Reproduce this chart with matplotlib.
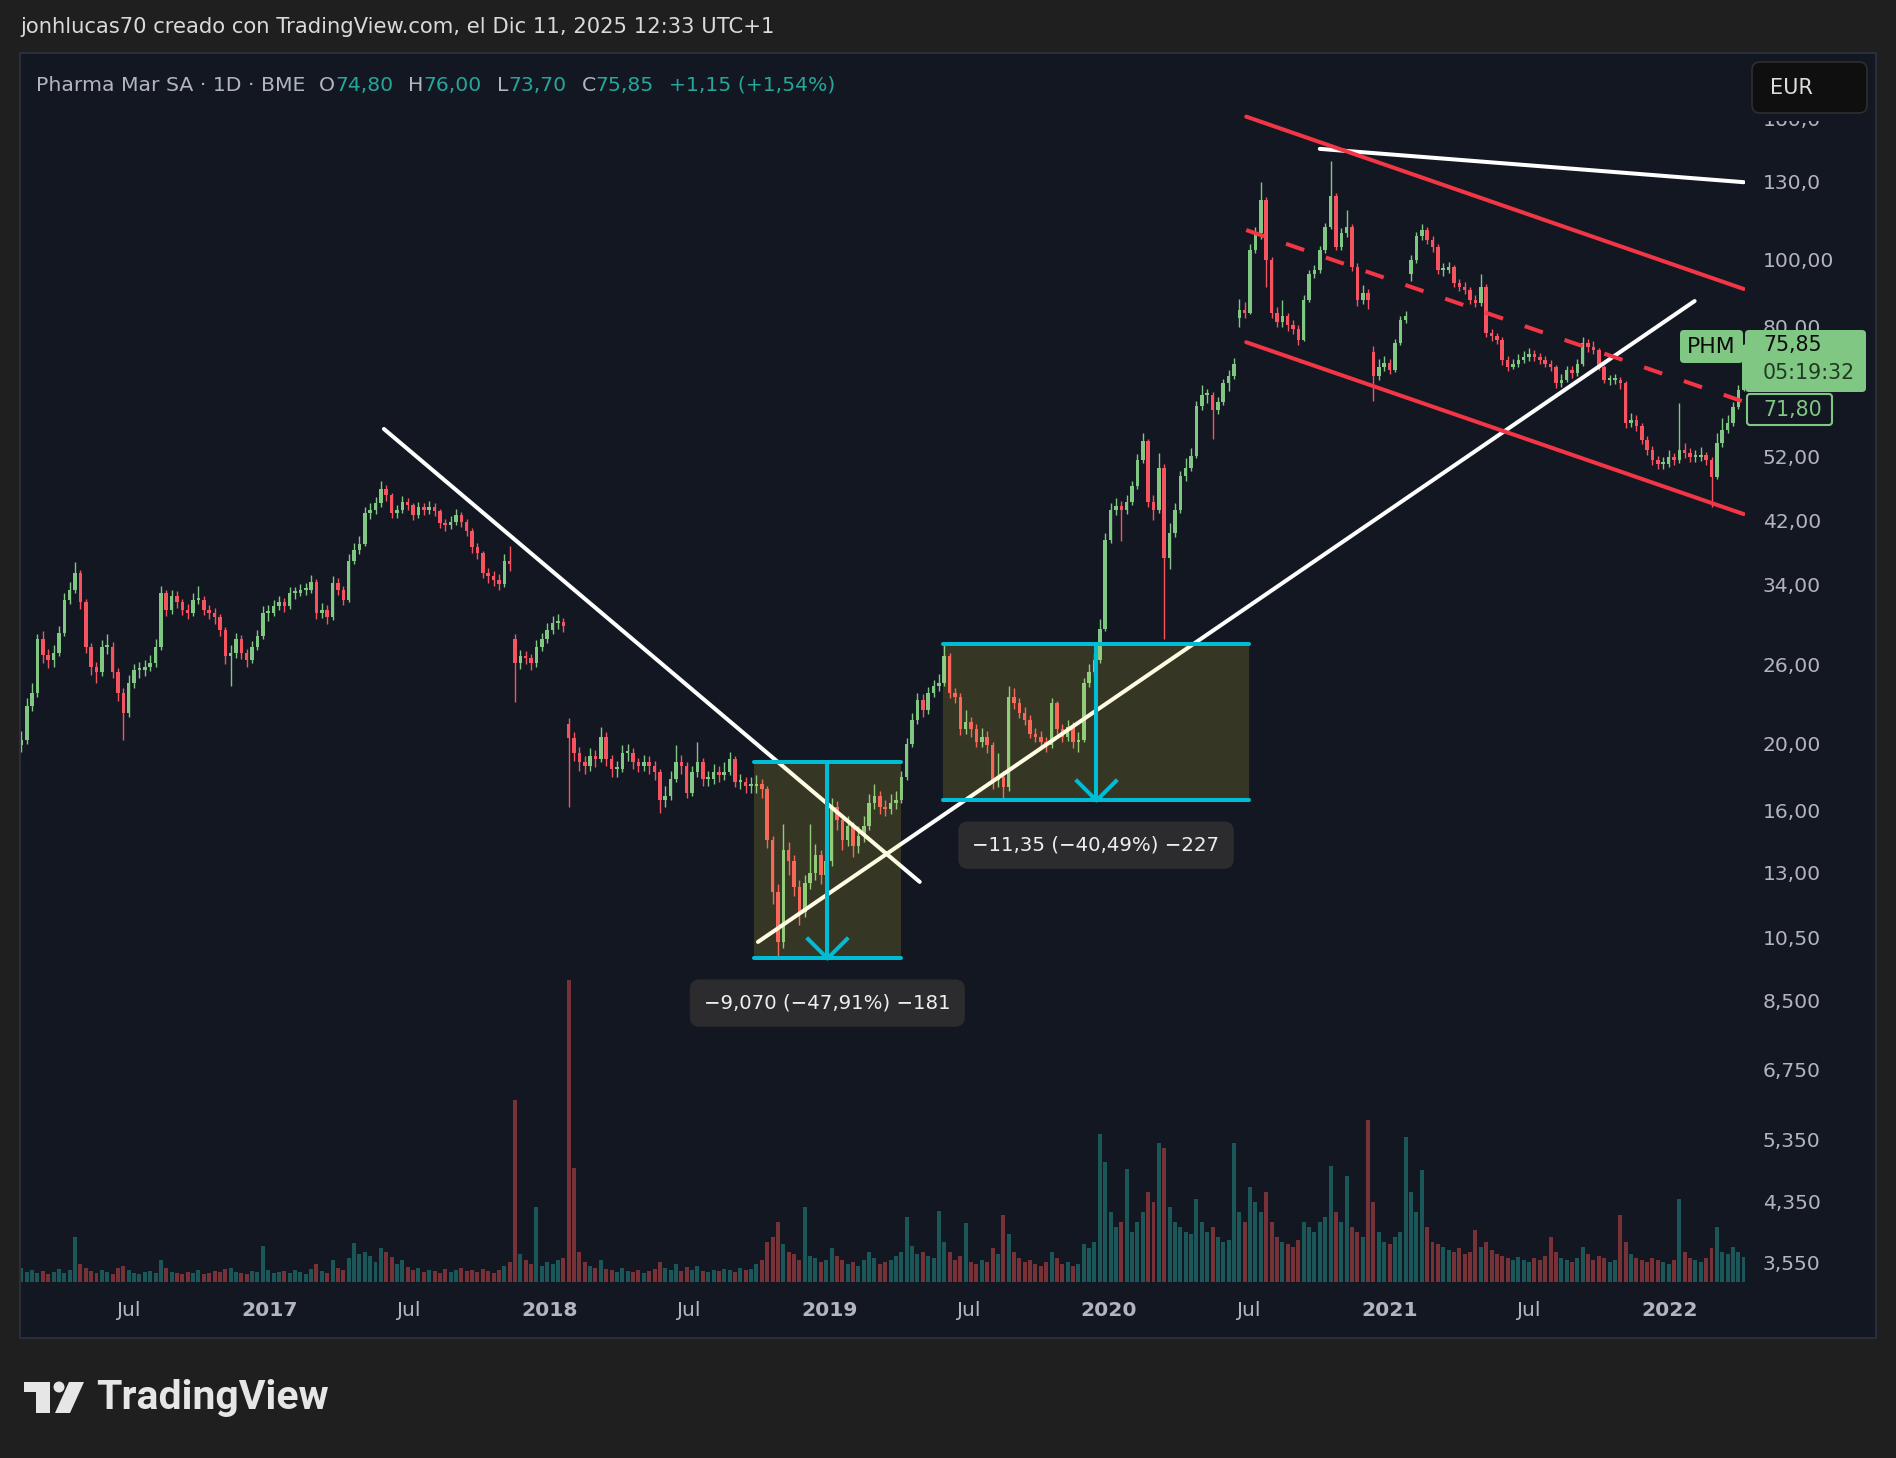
import numpy as np
import pandas as pd
import matplotlib
matplotlib.use("Agg")
import matplotlib.pyplot as plt
import matplotlib.dates as mdates
from matplotlib.patches import Rectangle, FancyBboxPatch, Polygon, Circle
from matplotlib.path import Path
from matplotlib.transforms import blended_transform_factory

plt.rcParams['font.family'] = ['DejaVu Sans']

# ---------------------------------------------------------------- data
week_start = "2016-02-12"          # weekly candles
first_open = 20.0
closes = [
    20.4, 22.8, 23.8, 28.5, 27.0, 26.6, 27.2, 29.1, 32.5, 33.6,
    35.5, 32.2, 27.8, 26.0, 25.5, 27.8, 27.8, 25.5, 23.8, 22.3,
    24.6, 25.7, 25.7, 26.0, 26.3, 27.8, 33.2, 31.4, 32.9, 32.2,
    31.4, 31.1, 32.5, 32.5, 31.4, 31.1, 30.7, 29.4, 26.9, 27.2,
    28.5, 27.2, 26.6, 27.8, 28.8, 31.1, 31.1, 31.8, 32.2, 31.8,
    33.2, 33.2, 33.6, 33.6, 34.5, 31.1, 31.4, 30.7, 34.3, 33.6,
    32.5, 37.0, 38.3, 39.1, 43.3, 43.8, 44.8, 47.0, 46.0, 43.3,
    43.8, 45.0, 44.5, 43.1, 44.3, 43.8, 44.3, 43.6, 41.9, 41.6,
    42.1, 43.1, 42.1, 40.9, 38.7, 37.9, 35.5, 35.1, 34.7, 34.2,
    37.0, 36.6, 26.3, 26.9, 26.8, 26.3, 27.8, 28.5, 29.4, 30.1,
    30.2, 29.8, 20.5, 19.5, 18.9, 18.7, 19.3, 19.1, 20.6, 19.1,
    18.5, 18.5, 19.5, 19.5, 18.9, 18.7, 18.9, 18.7, 18.3, 16.7,
    16.9, 17.9, 18.9, 18.7, 17.1, 18.3, 18.9, 17.9, 17.9, 18.3,
    18.1, 18.3, 19.1, 17.7, 17.7, 17.5, 17.5, 17.6, 17.3, 14.6,
    12.3, 10.4, 14.1, 13.6, 12.5, 11.5, 12.65, 13.1, 13.9, 13.0,
    13.6, 16.3, 15.6, 14.6, 15.3, 14.3, 14.8, 15.3, 16.5, 16.9,
    16.3, 16.2, 16.5, 16.7, 18.0, 20.1, 21.8, 23.3, 22.5, 23.8,
    24.4, 24.6, 26.9, 23.8, 23.5, 21.1, 21.6, 21.1, 20.2, 20.6,
    20.0, 17.8, 18.0, 17.4, 23.5, 23.0, 22.3, 21.8, 20.8, 20.6,
    20.2, 20.0, 23.0, 21.1, 20.6, 21.3, 20.2, 20.4, 24.6, 25.5,
    26.6, 29.5, 39.6, 43.8, 44.4, 43.8, 45.0, 47.4, 51.8, 55.1,
    45.0, 43.8, 50.4, 37.3, 40.6, 43.8, 49.0, 50.4, 52.4, 61.9,
    64.2, 64.2, 61.1, 62.7, 66.8, 68.5, 71.2, 85.2, 84.3, 104.0,
    110.0, 122.9, 100.6, 84.3, 81.8, 83.4, 81.0, 80.1, 77.2, 88.1,
    96.1, 97.3, 104.0, 112.4, 124.5, 105.2, 110.0, 112.4, 98.4, 88.1,
    90.1, 88.1, 68.3, 70.6, 71.5, 69.8, 76.3, 82.5, 83.4, 100.6,
    109.0, 111.2, 107.6, 105.2, 97.3, 97.3, 98.4, 93.1, 92.1, 91.1,
    88.1, 87.2, 92.1, 78.9, 78.1, 77.2, 72.1, 70.6, 71.3, 72.1,
    72.9, 73.7, 72.9, 72.1, 71.3, 70.6, 66.8, 67.5, 69.8, 69.0,
    71.3, 76.3, 75.4, 74.6, 70.6, 67.5, 67.5, 67.5, 66.8, 58.5,
    59.1, 57.9, 55.3, 53.5, 51.7, 51.1, 51.1, 52.3, 51.7, 53.5,
    52.9, 52.3, 52.3, 52.6, 51.7, 48.9, 54.7, 57.2, 58.5, 61.8,
    65.3, 75.85,
]
highs = [
    21.0, 23.4, 24.6, 29.0, 29.3, 27.6, 27.9, 29.8, 33.2, 34.5,
    36.8, 35.9, 32.6, 28.1, 26.4, 28.4, 29.0, 28.2, 25.9, 24.2,
    25.3, 26.2, 26.4, 26.6, 27.0, 28.5, 34.0, 33.6, 33.6, 33.4,
    32.6, 32.0, 33.2, 34.0, 32.9, 31.9, 31.6, 31.0, 29.7, 27.9,
    29.1, 28.9, 27.6, 28.3, 29.4, 31.8, 31.9, 32.5, 32.9, 32.7,
    33.9, 33.9, 34.2, 34.3, 35.3, 34.8, 32.1, 31.9, 35.2, 34.9,
    34.0, 37.8, 39.2, 40.2, 44.2, 44.9, 45.8, 48.3, 47.6, 46.4,
    44.6, 45.9, 45.6, 44.9, 45.0, 44.9, 45.1, 44.8, 44.0, 42.5,
    42.9, 43.9, 43.5, 42.5, 41.2, 39.2, 38.2, 36.1, 35.8, 35.4,
    37.8, 38.9, 29.0, 27.5, 27.4, 27.1, 28.4, 29.1, 30.1, 30.8,
    31.0, 30.6, 21.9, 20.9, 19.9, 19.3, 19.8, 19.7, 21.3, 20.9,
    19.4, 19.0, 20.0, 20.1, 19.8, 19.2, 19.4, 19.3, 19.0, 18.5,
    17.5, 18.4, 20.0, 19.4, 18.9, 18.7, 20.2, 19.2, 18.4, 18.8,
    18.7, 18.9, 19.6, 19.3, 18.2, 18.0, 18.0, 18.1, 17.9, 17.5,
    14.8, 12.6, 15.4, 14.5, 13.9, 12.8, 13.0, 15.4, 14.4, 14.1,
    14.2, 16.8, 16.6, 15.9, 15.8, 15.5, 15.3, 15.8, 17.0, 17.6,
    17.2, 16.7, 17.0, 17.2, 18.4, 20.5, 22.3, 23.8, 23.7, 24.3,
    24.9, 25.4, 28.0, 27.2, 24.2, 23.8, 22.5, 22.0, 21.5, 21.2,
    21.0, 20.2, 19.5, 18.4, 24.4, 24.2, 23.4, 22.7, 22.1, 21.2,
    21.0, 20.6, 23.4, 23.2, 21.5, 21.8, 21.6, 20.9, 25.0, 26.2,
    27.2, 30.5, 40.5, 44.8, 45.6, 45.2, 46.0, 48.3, 52.8, 56.5,
    55.5, 46.0, 53.0, 51.0, 42.0, 44.8, 49.8, 52.0, 53.8, 63.0,
    66.5, 65.5, 64.8, 63.8, 67.8, 69.8, 72.6, 88.5, 87.5, 106.0,
    112.5, 130.5, 124.0, 101.5, 86.0, 88.0, 84.5, 82.5, 81.0, 89.5,
    97.5, 99.0, 105.5, 114.0, 140.0, 126.0, 112.0, 119.0, 113.5, 99.5,
    92.5, 91.5, 75.5, 72.5, 73.0, 72.3, 77.3, 83.5, 85.0, 102.5,
    110.5, 113.5, 112.5, 109.0, 106.0, 99.5, 100.0, 99.0, 94.5, 93.5,
    92.0, 89.5, 96.0, 93.0, 80.0, 79.0, 77.8, 73.2, 72.5, 73.5,
    74.3, 75.0, 74.6, 73.8, 73.0, 72.2, 71.0, 68.8, 70.8, 70.8,
    72.4, 78.0, 77.5, 76.8, 75.2, 71.0, 68.6, 68.8, 68.2, 67.2,
    60.5, 60.0, 58.5, 56.0, 54.2, 52.5, 52.2, 53.4, 53.0, 62.5,
    54.8, 53.8, 53.5, 54.0, 53.2, 52.2, 56.5, 59.5, 60.0, 62.8,
    66.5, 76.0,
]
lows = [
    19.6, 20.1, 22.4, 23.5, 26.3, 25.9, 26.0, 26.9, 28.8, 32.0,
    33.2, 31.5, 27.2, 25.3, 24.6, 25.2, 27.1, 25.0, 23.2, 20.4,
    22.0, 24.2, 25.0, 25.2, 25.6, 26.0, 27.5, 30.8, 31.0, 31.6,
    30.9, 30.5, 30.8, 32.0, 30.9, 30.5, 30.0, 28.8, 26.2, 24.4,
    26.8, 26.7, 26.0, 26.3, 27.5, 28.5, 30.3, 30.8, 31.4, 31.2,
    31.5, 32.6, 32.9, 33.0, 33.2, 30.5, 30.6, 30.0, 30.4, 33.0,
    31.9, 32.2, 36.6, 37.8, 38.8, 42.5, 43.2, 44.3, 45.2, 42.6,
    42.7, 43.3, 43.8, 42.4, 42.7, 43.1, 43.2, 42.9, 41.2, 40.9,
    41.1, 41.7, 41.4, 40.2, 38.0, 37.2, 34.9, 34.3, 34.0, 33.6,
    33.9, 35.8, 23.1, 25.8, 26.2, 25.7, 26.0, 27.4, 28.1, 29.0,
    29.5, 29.2, 16.3, 19.0, 18.4, 18.2, 18.4, 18.6, 18.9, 18.7,
    18.0, 18.0, 18.3, 19.0, 18.5, 18.3, 18.4, 18.2, 17.8, 16.0,
    16.3, 16.7, 17.7, 18.2, 16.8, 16.9, 18.0, 17.5, 17.5, 17.6,
    17.7, 17.8, 18.1, 17.4, 17.3, 17.1, 17.1, 17.1, 16.8, 14.2,
    11.8, 9.86, 10.2, 13.0, 12.1, 11.0, 11.3, 12.4, 12.8, 12.6,
    12.7, 13.4, 15.1, 14.1, 14.3, 13.8, 14.0, 14.5, 15.1, 16.2,
    15.9, 15.8, 15.9, 16.2, 16.5, 17.8, 19.9, 21.5, 22.0, 22.2,
    23.5, 24.0, 24.4, 23.4, 23.0, 20.7, 20.8, 20.6, 19.9, 19.9,
    19.5, 17.3, 17.4, 16.7, 17.2, 22.6, 21.9, 21.4, 20.5, 20.2,
    19.9, 19.6, 19.8, 20.8, 20.2, 20.3, 19.8, 19.6, 20.2, 24.3,
    25.2, 26.3, 29.3, 39.2, 43.0, 39.5, 43.2, 44.6, 47.0, 51.2,
    44.2, 42.4, 43.4, 28.5, 36.0, 40.0, 43.4, 48.2, 49.8, 52.0,
    61.0, 62.5, 55.5, 60.2, 62.2, 65.0, 67.8, 80.5, 83.0, 84.0,
    103.0, 108.0, 92.0, 83.0, 80.5, 80.5, 79.5, 78.8, 75.8, 76.8,
    87.5, 94.8, 96.5, 103.0, 111.5, 104.0, 104.0, 108.5, 97.0, 86.5,
    86.8, 85.5, 63.0, 67.5, 69.5, 68.8, 69.3, 75.8, 81.5, 94.0,
    99.5, 107.5, 106.0, 103.5, 96.0, 95.5, 96.5, 92.0, 90.8, 89.8,
    86.8, 86.0, 86.5, 77.8, 76.8, 76.0, 71.0, 69.5, 70.0, 70.5,
    71.4, 72.0, 71.8, 71.2, 70.4, 69.6, 65.8, 66.0, 67.0, 68.0,
    68.5, 70.8, 74.2, 73.5, 69.8, 66.8, 66.5, 66.6, 65.5, 57.5,
    57.8, 57.0, 54.5, 52.6, 50.8, 50.2, 50.2, 50.6, 50.8, 51.2,
    52.0, 51.4, 51.3, 51.6, 50.8, 44.2, 48.5, 54.0, 56.5, 58.0,
    61.2, 65.0,
]
# weeks that opened with a price gap (index -> open)
gap_opens = {92: 28.5, 102: 21.5, 227: 83.0, 252: 74.0, 259: 96.0}
# relative volume (same scale as the pane height)
volumes = [
    14, 10, 12, 9, 11, 8, 10, 13, 9, 12,
    45, 18, 14, 11, 9, 12, 10, 8, 14, 16,
    12, 9, 8, 10, 11, 9, 22, 14, 10, 9,
    8, 10, 9, 12, 8, 9, 11, 10, 13, 14,
    10, 9, 8, 11, 10, 36, 12, 9, 10, 11,
    9, 12, 10, 8, 13, 18, 11, 9, 22, 14,
    12, 24, 39, 28, 30, 26, 20, 34, 30, 25,
    18, 22, 15, 12, 14, 10, 12, 11, 9, 13,
    10, 12, 14, 11, 12, 10, 13, 11, 9, 12,
    16, 20, 182, 28, 22, 18, 75, 16, 20, 18,
    22, 24, 302, 114, 30, 20, 16, 14, 22, 13,
    12, 10, 14, 11, 10, 12, 9, 11, 13, 20,
    14, 12, 18, 11, 15, 12, 16, 11, 10, 12,
    11, 13, 12, 10, 14, 12, 13, 18, 22, 40,
    45, 60, 38, 30, 28, 22, 75, 26, 24, 20,
    22, 34, 26, 22, 18, 20, 16, 22, 30, 24,
    18, 20, 22, 26, 30, 65, 36, 28, 30, 26,
    24, 71, 40, 30, 22, 26, 59, 20, 18, 22,
    20, 34, 28, 67, 48, 30, 24, 20, 22, 18,
    16, 20, 30, 24, 18, 20, 16, 18, 38, 34,
    40, 148, 120, 70, 55, 60, 113, 50, 60, 70,
    90, 80, 139, 134, 75, 60, 55, 50, 48, 83,
    60, 50, 55, 45, 40, 42, 139, 70, 60, 95,
    80, 70, 90, 60, 45, 40, 38, 35, 42, 60,
    55, 50, 60, 65, 116, 70, 60, 106, 55, 50,
    45, 162, 80, 50, 40, 38, 45, 50, 145, 90,
    70, 112, 55, 40, 38, 35, 32, 30, 34, 28,
    30, 52, 35, 40, 32, 28, 26, 24, 22, 25,
    22, 20, 24, 22, 26, 45, 30, 24, 22, 20,
    24, 35, 28, 22, 26, 24, 20, 22, 67, 40,
    28, 24, 22, 20, 24, 22, 20, 18, 22, 83,
    30, 24, 22, 20, 24, 34, 55, 30, 28, 35,
    30, 25,
]

price_ticks = [160, 130, 100, 80, 52, 42, 34, 26, 20, 16, 13, 10.5, 8.5, 6.75, 5.35, 4.35, 3.55]
price_tick_labels = ["160,0", "130,0", "100,00", "80,00", "52,00", "42,00", "34,00", "26,00",
                     "20,00", "16,00", "13,00", "10,50", "8,500", "6,750", "5,350", "4,350", "3,550"]
time_ticks = ["2016-07-01", "2017-01-01", "2017-07-01", "2018-01-01", "2018-07-01", "2019-01-01",
              "2019-07-01", "2020-01-01", "2020-07-01", "2021-01-01", "2021-07-01", "2022-01-01"]
time_tick_labels = ["Jul", "2017", "Jul", "2018", "Jul", "2019", "Jul", "2020", "Jul", "2021", "Jul", "2022"]

# drawings (date, price)
white_lines = [
    [("2017-05-30", 57.35), ("2019-04-29", 12.70)],
    [("2018-09-30", 10.40), ("2022-02-03", 87.8)],
    [("2020-10-02", 145.7), ("2022-04-08", 130.4)],
]
red_lines = [
    [("2020-06-28", 162.2), ("2022-04-08", 91.4)],
    [("2020-06-28", 76.55), ("2022-04-08", 43.2)],
]
red_dashed = [("2020-06-28", 111.2), ("2022-04-08", 62.8)]
range_starts = ["2018-09-25", "2019-05-30"]
range_ends = ["2019-04-04", "2020-07-01"]
range_tops = [18.93, 28.03]
range_bottoms = [9.86, 16.68]
range_labels = ["\u22129,070 (\u221247,91%) \u2212181", "\u221211,35 (\u221240,49%) \u2212227"]

title = "jonhlucas70 creado con TradingView.com, el Dic 11, 2025 12:33 UTC+1"
legend_name = "Pharma Mar SA \u00b7 1D \u00b7 BME"
legend_ohlc = [("O", "74,80"), ("H", "76,00"), ("L", "73,70"), ("C", "75,85")]
legend_change = "+1,15 (+1,54%)"
last_price, countdown, prev_label = "75,85", "05:19:32", "71,80"

# ---------------------------------------------------------------- style
W, H, DPI = 1896, 1458, 100
BG_OUT = '#1f1f1f'
BG = '#131722'
UP = '#81c784'
DN = '#f7525f'
TXT = '#b2b5be'
TEAL = '#26a69a'
CYAN = '#00bcd4'
RED_LINE = '#f23645'
LW = 2.9

fig = plt.figure(figsize=(W / DPI, H / DPI), dpi=DPI, facecolor=BG_OUT)


def px_axes(z):
    a = fig.add_axes([0, 0, 1, 1], zorder=z)
    a.set_xlim(0, W)
    a.set_ylim(H, 0)
    a.set_axis_off()
    return a


back = px_axes(-2)
back.add_patch(Rectangle((20, 53), 1856, 1285, facecolor=BG, edgecolor='#2a2e39', lw=1.5))

L, R, T, B = 21, 1745, 54, 1282
rect = [L / W, 1 - B / H, (R - L) / W, (B - T) / H]
axv = fig.add_axes(rect, zorder=0)
ax = fig.add_axes(rect, zorder=1)
for a in (axv, ax):
    a.set_facecolor('none')
    a.set_axis_off()

dates = pd.date_range(week_start, periods=len(closes), freq='7D')
x = mdates.date2num(dates.values)
c = np.array(closes)
o = np.array([first_open] + closes[:-1])
for k, v in gap_opens.items():
    o[k] = v
up = c >= o
cols = [UP if u else DN for u in up]

# volume
vcols = [(38 / 255, 166 / 255, 154 / 255, 0.45) if u else (239 / 255, 83 / 255, 80 / 255, 0.45) for u in up]
axv.bar(x, volumes, width=5.2, color=vcols, lw=0)
axv.set_ylim(0, B - T)

# candles
ax.set_yscale('log')
ax.vlines(x, lows, highs, colors=cols, lw=1.0, zorder=2)
ax.bar(x, np.maximum(np.abs(c - o), c * 0.006), bottom=np.minimum(o, c), width=4.6,
       color=cols, lw=0, zorder=2)


def dn(s):
    return mdates.date2num(np.datetime64(s))


for seg in white_lines:
    ax.plot([dn(d) for d, _ in seg], [p for _, p in seg], color='white', lw=LW,
            solid_capstyle='round', zorder=4)
for seg in red_lines:
    ax.plot([dn(d) for d, _ in seg], [p for _, p in seg], color=RED_LINE, lw=LW,
            solid_capstyle='round', zorder=4)
ax.plot([dn(d) for d, _ in red_dashed], [p for _, p in red_dashed], color=RED_LINE, lw=LW,
        linestyle=(0, (4.75, 5.7)), dash_capstyle='butt', zorder=4)

chevron = Path([(-1, 1), (0, 0), (1, 1)], [Path.MOVETO, Path.LINETO, Path.LINETO])
for s, e, tp, bt, lab in zip(range_starts, range_ends, range_tops, range_bottoms, range_labels):
    x0, x1 = dn(s), dn(e)
    xm = (x0 + x1) / 2
    ax.add_patch(Rectangle((x0, bt), x1 - x0, tp - bt, facecolor=(1.0, 0.92, 0.23, 0.15),
                           edgecolor='none', zorder=5))
    for yy in (tp, bt):
        ax.plot([x0, x1], [yy, yy], color=CYAN, lw=LW, solid_capstyle='round', zorder=6)
    ax.plot([xm, xm], [tp, bt], color=CYAN, lw=LW, zorder=6)
    ax.plot([xm], [bt], marker=chevron, markersize=30, markerfacecolor='none',
            markeredgecolor=CYAN, markeredgewidth=LW, zorder=6)
    ax.annotate(lab, xy=(xm, bt), xytext=(0, -32.5), textcoords='offset points',
                ha='center', va='center', color='#eeeeee', fontsize=14.2, zorder=7,
                bbox=dict(boxstyle='round,pad=0.72,rounding_size=0.5', fc='#2c2c2e', ec='none'))

ax.set_xlim(dn("2016-02-11T12:00"), dn("2022-04-09T16:48"))
axv.set_xlim(ax.get_xlim())
ax.set_ylim(3.353, 199.8)

# price scale labels
trp = blended_transform_factory(ax.transAxes, ax.transData)
lx = (1763 - L) / (R - L)
for p, lab in zip(price_ticks, price_tick_labels):
    ax.text(lx, p, lab, transform=trp, color=TXT, fontsize=14.6, ha='left', va='center',
            clip_on=False)

# time scale labels
trt = blended_transform_factory(ax.transData, ax.transAxes)
ly = -(1311 - B) / (B - T)
for d, lab in zip(time_ticks, time_tick_labels):
    ax.text(dn(d), ly, lab, transform=trt, color=TXT, fontsize=14.6, ha='center', va='center',
            fontweight='normal' if lab == 'Jul' else 'bold', clip_on=False)

# ---------------------------------------------------------------- overlays (pixel space)
fg = px_axes(5)
# price-scale area just under the currency button hides the top of the first label
fg.add_patch(Rectangle((1752, 112), 116, 9, fc=BG, ec='none'))
fg.add_patch(FancyBboxPatch((1752, 62), 115, 51, boxstyle='round,pad=0,rounding_size=8',
                            fc='#0f0f0f', ec='#2e2e2e', lw=1.2))
fg.text(1770, 88, 'EUR', color='#dddddd', fontsize=15, ha='left', va='center')

fg.add_patch(FancyBboxPatch((1680, 330), 63, 33, boxstyle='round,pad=0,rounding_size=4',
                            fc=UP, ec='none'))
fg.text(1711.5, 347, 'PHM', color='#0c0c0c', fontsize=15.8, ha='center', va='center')
fg.add_patch(FancyBboxPatch((1745, 330), 121, 62, boxstyle='round,pad=0,rounding_size=4',
                            fc=UP, ec='none'))
fg.text(1763, 345, last_price, color='#0c0c0c', fontsize=14.8, ha='left', va='center')
fg.text(1763, 373, countdown, color='#1f3b22', fontsize=14.8, ha='left', va='center')
fg.add_patch(FancyBboxPatch((1747, 394), 85, 31, boxstyle='round,pad=0,rounding_size=3',
                            fc=BG, ec=UP, lw=1.5))
fg.text(1763, 409.5, prev_label, color=UP, fontsize=14.8, ha='left', va='center')

fg.text(20, 27, title, color='#d9d9d9', fontsize=15.2, ha='left', va='center')

renderer = fig.canvas.get_renderer()


def put(xpix, s, col):
    t = fg.text(xpix, 85, s, color=col, fontsize=14.7, ha='left', va='center')
    return t.get_window_extent(renderer).x1


xp = put(36, legend_name, TXT) + 14
for k, v in legend_ohlc:
    xp = put(xp, k, TXT)
    xp = put(xp, v, TEAL) + 15
put(xp, legend_change, TEAL)

LOGO = '#e6e6e6'
fg.add_patch(Rectangle((24, 1382), 26, 10, fc=LOGO, ec='none'))
fg.add_patch(Rectangle((36, 1382), 14, 31, fc=LOGO, ec='none'))
fg.add_patch(Circle((59, 1387), 5.5, fc=LOGO, ec='none'))
fg.add_patch(Polygon([(69, 1382), (84, 1382), (70, 1413), (55, 1413)], closed=True, fc=LOGO, ec='none'))
fg.text(96, 1398, 'TradingView', color=LOGO, fontsize=29.5, fontfamily=['Roboto', 'DejaVu Sans'],
        fontweight='bold', ha='left', va='center')

fig.savefig('out.png', dpi=DPI, facecolor=BG_OUT)
